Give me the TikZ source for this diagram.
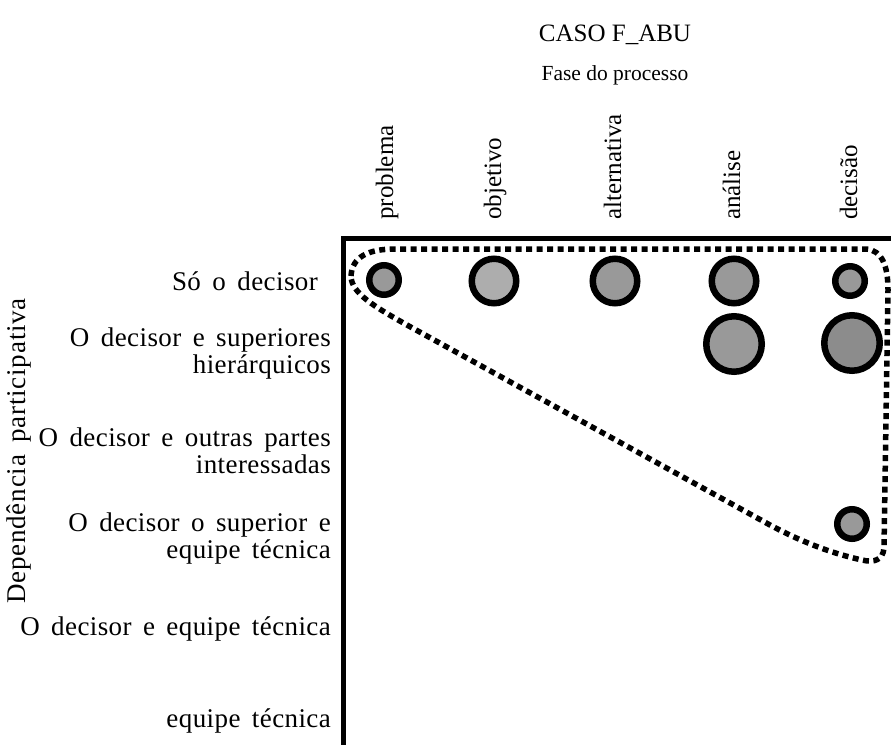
\documentclass[tikz,border=0pt]{standalone}
\usepackage{fontspec}
\setmainfont{Liberation Serif}
\newfontfamily\levelfont[WordSpace=1.6,LetterSpace=1.5]{Liberation Serif}
\newfontfamily\dimfont[WordSpace=1.6,LetterSpace=3]{Liberation Serif}
\begin{document}
\begin{tikzpicture}[x=1pt,y=-1pt,
  txt/.style={font=\fontsize{25}{27}\selectfont, inner sep=0pt},
  labeltxt/.style={inner sep=0pt, font=\levelfont\fontsize{27}{27}\selectfont},
  rowlabel/.style={labeltxt, anchor=base east},
  colhead/.style={txt, rotate=90, anchor=base west},
  axisline/.style={line width=5pt},
  bubble/.style={circle, draw=black, line width=6.5pt, fill=black!40, inner sep=0pt},
  bsmall/.style={bubble, minimum size=29.5pt},
  bmed/.style={bubble, minimum size=44.5pt},
  blarge/.style={bubble, minimum size=55.5pt},
  zone/.style={line width=5.5pt, dash pattern=on 6pt off 4.5pt}
]
\useasboundingbox (0,0) rectangle (891,745);

% titles
\node[txt, anchor=base] (title) at (615,41) {CASO F\_ABU};
\node[inner sep=0pt, anchor=base, font=\fontsize{21.5}{24}\selectfont] (phase) at (615,80) {Fase do processo};

% phase headers
\node[colhead] (h1) at (393,220) {problema};
\node[colhead] (h2) at (501,220) {objetivo};
\node[colhead] (h3) at (621,220) {alternativa};
\node[colhead] (h4) at (740,220) {análise};
\node[colhead] (h5) at (857,220) {decisão};

% participation levels
\node[rowlabel] (r1)  at (318,290) {Só o decisor};
\node[rowlabel] (r2a) at (331,346) {O decisor e superiores};
\node[rowlabel] (r2b) at (331,373) {hierárquicos};
\node[rowlabel] (r3a) at (331,446) {O decisor e outras partes};
\node[rowlabel] (r3b) at (331,473) {interessadas};
\node[rowlabel] (r4a) at (331,531) {O decisor o superior e};
\node[rowlabel] (r4b) at (331,558) {equipe técnica};
\node[rowlabel] (r5)  at (331,635) {O decisor e equipe técnica};
\node[rowlabel] (r6)  at (331,727) {equipe técnica};

\node[inner sep=0pt, font=\dimfont\fontsize{27}{27}\selectfont, rotate=90] (yaxis) at (19,451) {Dependência participativa};

% axes
\coordinate (corner) at (343,238);
\coordinate (xend) at (891,238);
\coordinate (yend) at (343,745);
\draw[axisline] (xend) -- (corner) -- (yend);

% grouping outline
\draw[zone] (351,276) .. controls (352,257) and (368,249) .. (395,249)
  -- (866,249) .. controls (882,250) and (888,266) .. (888,290)
  -- (884,548) .. controls (883,560) and (874,563) .. (862,560)
  .. controls (830,553) and (800,541) .. (770,525)
  -- (407,325) .. controls (375,307) and (351,293) .. cycle;

% occurrences
\node[bsmall] (c11) at (384,280) {};
\node[bmed, fill=black!32] (c12) at (494,281) {};
\node[bmed] (c13) at (615,281) {};
\node[bmed] (c14) at (734,281) {};
\node[bsmall] (c15) at (850,281) {};
\node[blarge] (c24) at (734,344) {};
\node[blarge, fill=black!45] (c25) at (852,343) {};
\node[bsmall] (c45) at (852,524) {};
\end{tikzpicture}
\end{document}
